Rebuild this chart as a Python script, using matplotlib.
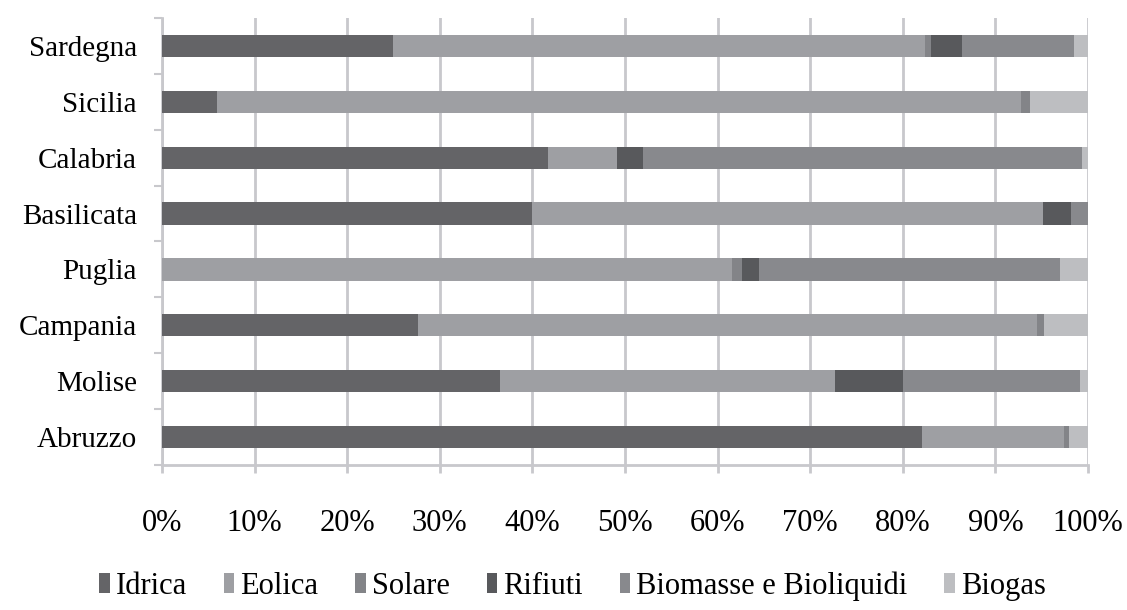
import numpy as np
import matplotlib
matplotlib.use('Agg')
from matplotlib import pyplot as plt

regions = ['Abruzzo', 'Molise', 'Campania', 'Puglia', 'Basilicata',
           'Calabria', 'Sicilia', 'Sardegna']
sources = ['Idrica', 'Eolica', 'Solare', 'Rifiuti',
           'Biomasse e Bioliquidi', 'Biogas']

# shares (%) per region, same order as regions
idrica   = [82.1, 36.5, 27.6,  0.0, 40.0, 41.7,  5.9, 24.9]
eolica   = [15.3, 36.2, 66.9, 61.6, 55.1,  7.4, 86.9, 57.5]
solare   = [ 0.5,  0.0,  0.8,  1.0,  0.0,  0.0,  0.9,  0.6]
rifiuti  = [ 0.0,  7.3,  0.0,  1.9,  3.1,  2.8,  0.0,  3.4]
biomasse = [ 0.0, 19.1,  0.0, 32.5,  1.8, 47.5,  0.0, 12.1]
biogas   = [ 2.1,  0.9,  4.7,  3.0,  0.0,  0.6,  6.3,  1.5]

colors = ['#646467', '#9e9fa3', '#838488', '#58595c', '#88898d', '#bdbec1']

plt.rcParams['font.family'] = ['Liberation Serif', 'DejaVu Serif']

fig = plt.figure(figsize=(11.27, 6.10), dpi=100)
ax = fig.add_axes([0.1437, 0.2377, 0.8217, 0.7328])

y = np.arange(len(regions))
left = np.zeros(len(regions))
for name, vals, col in zip(sources, [idrica, eolica, solare, rifiuti, biomasse, biogas], colors):
  vals = np.array(vals)
  ax.barh(y, vals, left=left, height=0.4, color=col, label=name, zorder=3)
  left += vals

ax.set_xlim(0, 100)
ax.set_ylim(-0.5, len(regions) - 0.5)
ax.set_xticks(np.arange(0, 101, 10))
ax.set_xticklabels(['%d%%' % v for v in range(0, 101, 10)], fontsize=22)
ax.set_yticks(y)
ax.set_yticklabels(regions, fontsize=21)
ax.tick_params(axis='y', length=0, pad=18)
ax.tick_params(axis='x', length=6, color='#c8c8cc', width=2, pad=26)
# category boundary ticks on the y axis
ax.set_yticks(np.arange(-0.5, len(regions)), minor=True)
ax.tick_params(axis='y', which='minor', length=6, color='#c8c8cc', width=1.5)

ax.grid(axis='x', color='#c8c8cc', linewidth=2, zorder=0)
for s in ['top', 'right']:
  ax.spines[s].set_visible(False)
for s in ['left', 'bottom']:
  ax.spines[s].set_color('#c8c8cc')
  ax.spines[s].set_linewidth(2)

fig.legend(loc='lower center', bbox_to_anchor=(0.508, -0.03), ncol=6, frameon=False,
           fontsize=22, handlelength=0.35, handleheight=0.6, handletextpad=0.2,
           columnspacing=1.2)

plt.savefig('out.png', dpi=100)
